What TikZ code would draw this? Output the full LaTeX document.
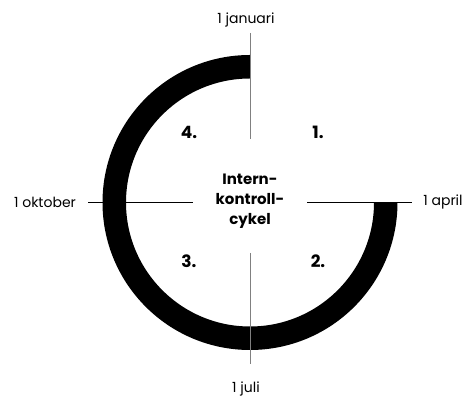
\documentclass[tikz,border=0pt]{standalone}
\usepackage{fontspec}
\setmainfont{Poppins}
\begin{document}
\begin{tikzpicture}[x=1pt,y=1pt,
  lbl/.style={font=\fontsize{14}{16}\selectfont, inner sep=0pt},
  num/.style={font=\fontsize{17}{20}\selectfont\bfseries, inner sep=0pt},
  ctr/.style={font=\fontsize{15}{20}\selectfont\bfseries, align=center, inner sep=0pt},
  gline/.style={draw=black!50, line width=1pt},
  hline/.style={draw=black, line width=0.9pt},
  ring/.style={draw=black, line width=23.5pt, line cap=butt}]
\useasboundingbox (0,0) rectangle (467,401);
\coordinate (c) at (250,198.5);
\draw[ring] (250,334.25) arc[start angle=90, end angle=360, radius=135.75];
\node[ctr] (center) at (250,200) {Intern-\\kontroll-\\cykel};
\node[lbl] (jan) at (246,381) {1 januari};
\node[lbl] (jul) at (246,12) {1 juli};
\node[lbl] (apr) at (443,199) {1 april};
\node[lbl] (okt) at (45,199) {1 oktober};
\node[num] (q1) at (318,269) {1.};
\node[num] (q4) at (189,269) {4.};
\node[num] (q3) at (189,140) {3.};
\node[num] (q2) at (318,140) {2.};
\coordinate (t1) at (250,368);
\coordinate (t2) at (250,262);
\coordinate (b1) at (250,148);
\coordinate (b2) at (250,37);
\coordinate (l1) at (88,199);
\coordinate (l2) at (193,199);
\coordinate (r1) at (307,199);
\coordinate (r2) at (412,199);
\draw[gline] (t1) -- (t2);
\draw[gline] (b1) -- (b2);
\draw[hline] (l1) -- (l2);
\draw[hline] (r1) -- (r2);
\end{tikzpicture}
\end{document}
